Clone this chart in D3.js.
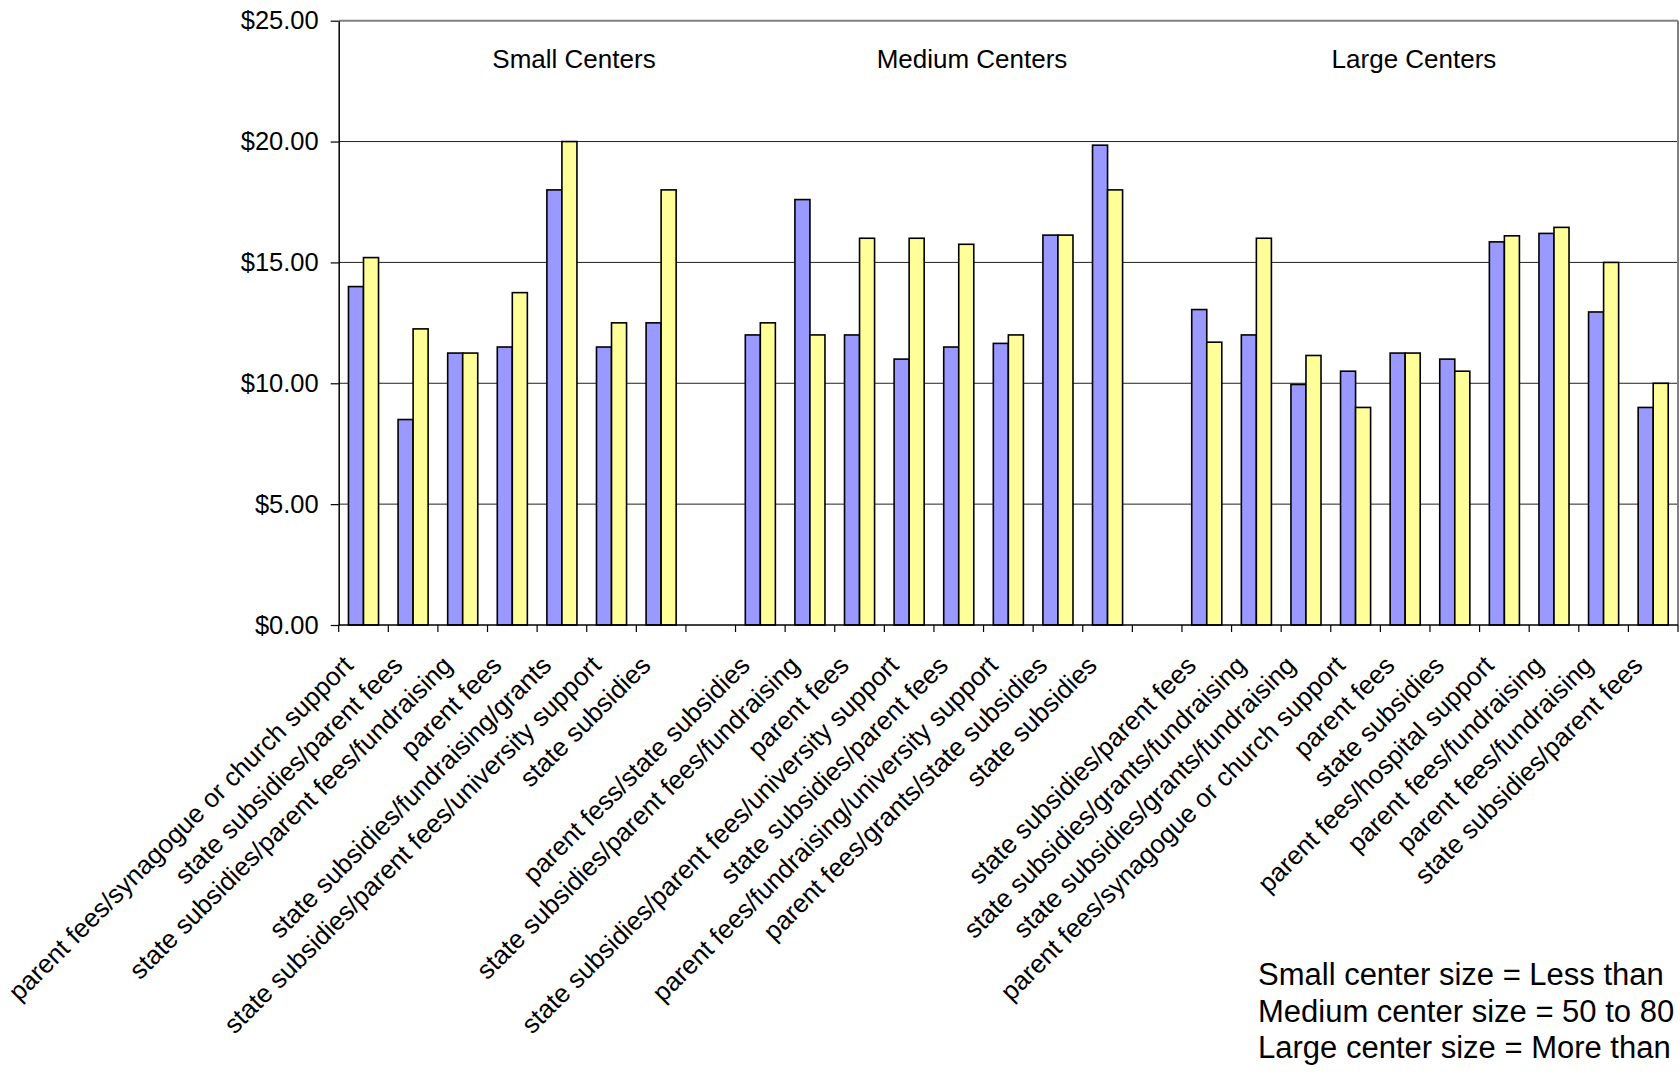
<!DOCTYPE html>
<html>
<head>
<meta charset="utf-8">
<script src="https://cdn.jsdelivr.net/npm/d3@7/dist/d3.min.js"></script>
<style>
  html, body { margin: 0; padding: 0; background: #fff; }
  svg { display: block; }
  text { font-family: "Liberation Sans", Arial, Helvetica, sans-serif; fill: #000; }
</style>
</head>
<body>
<svg id="chart" width="1680" height="1074"></svg>
<script>
// Funding sources by center size (category labels, one per bar pair)
const categoriesSmall = [
  "parent fees/synagogue or church support",
  "state subsidies/parent fees",
  "state subsidies/parent fees/fundraising",
  "parent fees",
  "state subsidies/fundraising/grants",
  "state subsidies/parent fees/university support",
  "state subsidies"
];
const categoriesMedium = [
  "parent fess/state subsidies",
  "state subsidies/parent fees/fundraising",
  "parent fees",
  "state subsidies/parent fees/university support",
  "state subsidies/parent fees",
  "parent fees/fundraising/university support",
  "parent fees/grants/state subsidies",
  "state subsidies"
];
const categoriesLarge = [
  "state subsidies/parent fees",
  "state subsidies/grants/fundraising",
  "state subsidies/grants/fundraising",
  "parent fees/synagogue or church support",
  "parent fees",
  "state subsidies",
  "parent fees/hospital support",
  "parent fees/fundraising",
  "parent fees/fundraising",
  "state subsidies/parent fees"
];

// Hourly rates, first (blue) and second (yellow) series
const valuesSmallA  = [14.00, 8.50, 11.25, 11.50, 18.00, 11.50, 12.50];
const valuesSmallB  = [15.20, 12.25, 11.25, 13.75, 20.00, 12.50, 18.00];
const valuesMediumA = [12.00, 17.60, 12.00, 11.00, 11.50, 11.65, 16.13, 19.85];
const valuesMediumB = [12.50, 12.00, 16.00, 16.00, 15.75, 12.00, 16.13, 18.00];
const valuesLargeA  = [13.05, 12.00, 9.95, 10.50, 11.25, 11.00, 15.85, 16.20, 12.95, 9.00];
const valuesLargeB  = [11.70, 16.00, 11.15, 9.00, 11.25, 10.50, 16.10, 16.45, 15.00, 10.00];

const groupTitles = ["Small Centers", "Medium Centers", "Large Centers"];
const yTickValues = [0, 5, 10, 15, 20, 25];
const sizeNotes = [
  "Small center size = Less than",
  "Medium center size = 50 to 80",
  "Large center size = More than"
];

// ---- layout ----
const W = 1680, H = 1074;
const plot = { left: 338.7, right: 1678, top: 20.7, bottom: 625 };
const seriesKeys = ["a", "b"];
const seriesFill = { a: "#9999FF", b: "#FFFF99" };
const titleX = [574, 972, 1414];
const titleBaseline = 68;

// Build the slot list: each group's categories, with one empty slot between groups
const groups = [
  { cats: categoriesSmall,  a: valuesSmallA,  b: valuesSmallB },
  { cats: categoriesMedium, a: valuesMediumA, b: valuesMediumB },
  { cats: categoriesLarge,  a: valuesLargeA,  b: valuesLargeB }
];
const slots = [];
groups.forEach((g, gi) => {
  if (gi > 0) slots.push({ key: "gap" + gi, label: null });
  g.cats.forEach((c, i) => slots.push({ key: gi + "-" + i, label: c, a: g.a[i], b: g.b[i] }));
});
const dataSlots = slots.filter(s => s.label !== null);

const svg = d3.select("#chart");

const x = d3.scaleBand()
  .domain(slots.map(s => s.key))
  .range([plot.left, plot.right])
  .paddingInner(0).paddingOuter(0);

const xs = d3.scaleBand()
  .domain(seriesKeys)
  .range([0, x.bandwidth()])
  .paddingInner(0).paddingOuter(0.65);

const y = d3.scaleLinear().domain([0, 25]).range([plot.bottom, plot.top]);

// gridlines
svg.append("g").selectAll("line")
  .data(yTickValues.filter(v => v > 0 && v < 25))
  .join("line")
  .attr("x1", plot.left).attr("x2", plot.right)
  .attr("y1", d => y(d)).attr("y2", d => y(d))
  .attr("stroke", "#222").attr("stroke-width", 1);

// plot border (top and right)
svg.append("line")
  .attr("x1", plot.left).attr("x2", plot.right)
  .attr("y1", y(25)).attr("y2", y(25))
  .attr("stroke", "#808080").attr("stroke-width", 2);
svg.append("line")
  .attr("x1", plot.right).attr("x2", plot.right)
  .attr("y1", plot.top).attr("y2", plot.bottom)
  .attr("stroke", "#808080").attr("stroke-width", 2);

// bars
const barGroups = svg.append("g").selectAll("g")
  .data(dataSlots)
  .join("g")
  .attr("transform", d => `translate(${x(d.key)},0)`);

barGroups.selectAll("rect")
  .data(d => seriesKeys.map(k => ({ k, v: d[k] })))
  .join("rect")
  .attr("x", d => xs(d.k))
  .attr("width", xs.bandwidth())
  .attr("y", d => y(d.v))
  .attr("height", d => y(0) - y(d.v))
  .attr("fill", d => seriesFill[d.k])
  .attr("stroke", "#000")
  .attr("stroke-width", 1.6);

// y axis
const yAxis = d3.axisLeft(y)
  .tickValues(yTickValues)
  .tickFormat(d => "$" + d3.format(".2f")(d))
  .tickSizeInner(8).tickSizeOuter(0).tickPadding(12);
const yg = svg.append("g").attr("transform", `translate(${plot.left},0)`).call(yAxis);
yg.select(".domain").attr("stroke", "#000").attr("stroke-width", 1.5);
yg.selectAll(".tick line").attr("stroke", "#000").attr("stroke-width", 1.2);
yg.selectAll(".tick text").attr("font-size", 25.5).attr("fill", "#000");

// x axis line and slot boundary ticks
svg.append("line")
  .attr("x1", plot.left).attr("x2", plot.right)
  .attr("y1", y(0)).attr("y2", y(0))
  .attr("stroke", "#000").attr("stroke-width", 1.5);

const boundaries = slots.map(s => x(s.key)).concat([x(slots[slots.length - 1].key) + x.step()]);
svg.append("g").selectAll("line")
  .data(boundaries)
  .join("line")
  .attr("x1", d => d).attr("x2", d => d)
  .attr("y1", y(0)).attr("y2", y(0) + 7)
  .attr("stroke", "#000").attr("stroke-width", 1.2);

// rotated category labels
svg.append("g").selectAll("text")
  .data(dataSlots)
  .join("text")
  .attr("transform", d => `translate(${x(d.key) + x.bandwidth() / 2 - 9},${y(0) + 42}) rotate(-45)`)
  .attr("text-anchor", "end")
  .attr("font-size", 26)
  .text(d => d.label);

// group titles
svg.append("g").selectAll("text")
  .data(groupTitles)
  .join("text")
  .attr("x", (d, i) => titleX[i])
  .attr("y", titleBaseline)
  .attr("text-anchor", "middle")
  .attr("font-size", 26)
  .text(d => d);

// center size notes
svg.append("g").selectAll("text")
  .data(sizeNotes)
  .join("text")
  .attr("x", 1258)
  .attr("y", (d, i) => 985 + i * 36.5)
  .attr("font-size", 31)
  .text(d => d);
</script>
</body>
</html>
